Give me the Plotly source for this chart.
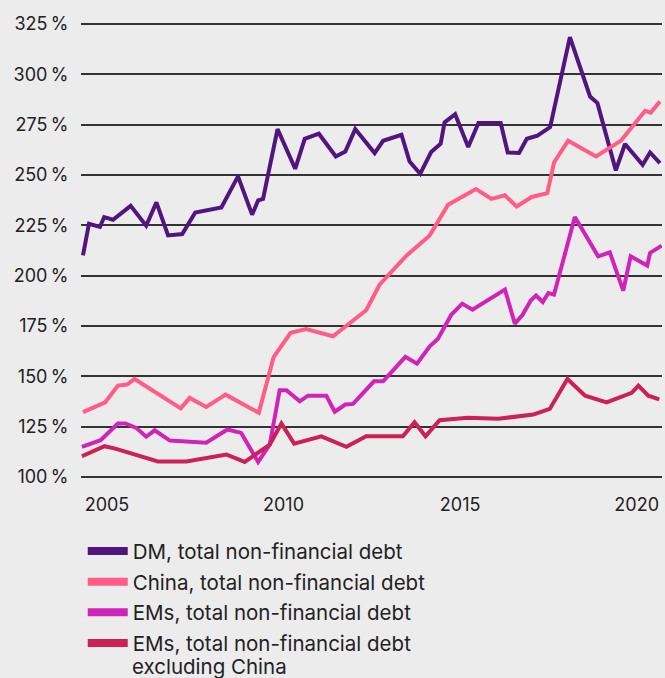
import plotly.graph_objects as go

# ---- data ----
dm_x = [2004.32, 2004.49, 2004.80, 2004.92, 2005.17, 2005.67, 2006.11, 2006.40, 2006.73, 2007.13,
        2007.50, 2008.24, 2008.71, 2009.11, 2009.28, 2009.42, 2009.83, 2010.33, 2010.60, 2011.00,
        2011.48, 2011.75, 2012.03, 2012.58, 2012.82, 2013.34, 2013.57, 2013.87, 2014.18, 2014.45,
        2014.56, 2014.86, 2015.23, 2015.52, 2016.15, 2016.35, 2016.67, 2016.89, 2017.19, 2017.55,
        2018.11, 2018.68, 2018.89, 2019.41, 2019.67, 2020.17, 2020.38, 2020.66]
dm_y = [210.1, 225.8, 224.2, 229.1, 227.8, 234.7, 224.8, 236.4, 220.0, 220.7,
        231.4, 233.9, 249.3, 230.3, 237.4, 238.1, 272.8, 253.1, 268.0, 270.5,
        259.2, 261.7, 272.8, 260.9, 267.0, 270.0, 256.7, 250.6, 261.4, 265.5,
        276.1, 280.2, 263.9, 275.8, 275.8, 261.2, 260.9, 268.0, 269.5, 273.8,
        318.5, 289.0, 285.7, 252.3, 265.4, 255.1, 261.2, 255.9]

china_x = [2004.32, 2004.95, 2005.31, 2005.57, 2005.78, 2007.09, 2007.34, 2007.81, 2008.36, 2009.30,
           2009.72, 2010.20, 2010.64, 2011.40, 2012.34, 2012.72, 2013.48, 2014.14, 2014.66, 2015.45,
           2015.89, 2016.27, 2016.60, 2017.03, 2017.47, 2017.66, 2018.06, 2018.85, 2019.56, 2019.95,
           2020.24, 2020.40, 2020.66]
china_y = [132.2, 137.1, 145.4, 145.9, 148.7, 134.1, 139.3, 134.8, 140.9, 131.9,
           159.6, 171.6, 173.5, 169.9, 182.8, 195.5, 209.9, 220.0, 235.2, 243.0,
           238.1, 239.9, 234.4, 239.1, 241.0, 256.2, 267.0, 259.2, 267.1, 275.4,
           281.9, 281.0, 286.5]

ems_x = [2004.29, 2004.82, 2005.31, 2005.52, 2005.83, 2006.11, 2006.35, 2006.78, 2007.81, 2008.41,
         2008.80, 2009.28, 2009.61, 2009.89, 2010.08, 2010.46, 2010.69, 2011.21, 2011.45, 2011.75,
         2011.97, 2012.56, 2012.82, 2013.45, 2013.78, 2014.14, 2014.37, 2014.75, 2015.06, 2015.35,
         2016.27, 2016.55, 2016.77, 2017.00, 2017.15, 2017.34, 2017.50, 2017.66, 2018.25, 2018.91,
         2019.24, 2019.62, 2019.83, 2020.30, 2020.38, 2020.71]
ems_y = [115.0, 118.3, 126.6, 126.6, 124.4, 120.0, 123.2, 118.1, 117.0, 123.6,
         121.9, 107.5, 116.1, 143.1, 143.1, 137.6, 140.4, 140.4, 132.4, 136.0,
         136.3, 147.5, 147.5, 159.7, 156.3, 164.9, 168.6, 180.6, 186.1, 183.1,
         193.1, 176.2, 180.6, 187.7, 190.1, 186.9, 191.4, 190.6, 229.1, 209.6,
         211.6, 192.6, 209.6, 205.0, 211.3, 214.9]

exchina_x = [2004.29, 2004.93, 2005.26, 2006.44, 2007.25, 2008.38, 2008.90, 2009.61, 2009.94, 2010.30,
             2011.07, 2011.78, 2012.34, 2013.38, 2013.71, 2014.02, 2014.42, 2015.22, 2016.08, 2017.07,
             2017.54, 2018.04, 2018.54, 2019.15, 2019.86, 2020.05, 2020.33, 2020.64]
exchina_y = [110.3, 115.3, 114.0, 107.7, 107.7, 111.2, 107.5, 116.1, 126.6, 116.6,
             120.2, 115.0, 120.2, 120.2, 127.2, 120.2, 128.2, 129.4, 128.9, 131.0,
             133.8, 148.7, 140.4, 137.1, 141.8, 145.4, 140.4, 138.5]

series_names = ["DM, total non-financial debt",
                "China, total non-financial debt",
                "EMs, total non-financial debt",
                "EMs, total non-financial debt"]
last_name_line2 = "excluding China"
series_colors = ["#52147e", "#ff5c86", "#d024b9", "#cb2156"]

y_tickvals = [100, 125, 150, 175, 200, 225, 250, 275, 300, 325]
y_ticktext = ["100\u202f%", "125\u202f%", "150\u202f%", "175\u202f%", "200\u202f%",
              "225\u202f%", "250\u202f%", "275\u202f%", "300\u202f%", "325\u202f%"]
x_tickvals = [2005, 2010, 2015, 2020]
x_ticktext = ["2005", "2010", "2015", "2020"]

FONT = "Inter, Roboto, sans-serif"
LEG_SIZE = 20.5

fig = go.Figure()
xs = [dm_x, china_x, ems_x, exchina_x]
ys = [dm_y, china_y, ems_y, exchina_y]
for i in range(4):
    fig.add_trace(go.Scatter(x=xs[i], y=ys[i], mode="lines", name=series_names[i],
                             line=dict(color=series_colors[i], width=4, shape="linear"),
                             showlegend=False, hoverinfo="x+y"))
# legend-only traces (thicker swatches)
for i in range(4):
    fig.add_trace(go.Scatter(x=[None], y=[None], mode="lines", name=series_names[i],
                             legendgroup="g%d" % i,
                             line=dict(color=series_colors[i], width=8)))

# second line of the last legend label
fig.add_annotation(text=last_name_line2, xref="paper", yref="paper",
                   x=0.0845, y=-0.4125, xanchor="left", yanchor="middle",
                   showarrow=False, font=dict(family=FONT, size=LEG_SIZE, color="#222222"))

fig.update_layout(
    width=665, height=678,
    margin=dict(l=81, r=3, t=22, b=199.5, pad=0, autoexpand=False),
    paper_bgcolor="#ececec", plot_bgcolor="#ececec",
    font=dict(family=FONT, size=18, color="#222222"),
    showlegend=True,
    legend=dict(x=0.003, xanchor="left", y=-0.1166, yanchor="top",
                orientation="v", valign="top", tracegroupgap=1,
                itemwidth=40, bgcolor="rgba(0,0,0,0)",
                font=dict(family=FONT, size=LEG_SIZE, color="#222222")),
    xaxis=dict(range=[2004.264, 2020.718], tickvals=x_tickvals, ticktext=x_ticktext,
               showgrid=False, zeroline=False, showline=False,
               ticks="outside", ticklen=10, tickcolor="rgba(0,0,0,0)",
               tickfont=dict(size=18, color="#222222")),
    yaxis=dict(range=[99.5, 326], tickvals=y_tickvals, ticktext=y_ticktext,
               showgrid=True, gridcolor="#333333", gridwidth=1.6, zeroline=False,
               showline=False, ticks="outside", ticklen=8, tickcolor="rgba(0,0,0,0)",
               tickfont=dict(size=18, color="#222222")),
)

fig.write_html("out.html")
